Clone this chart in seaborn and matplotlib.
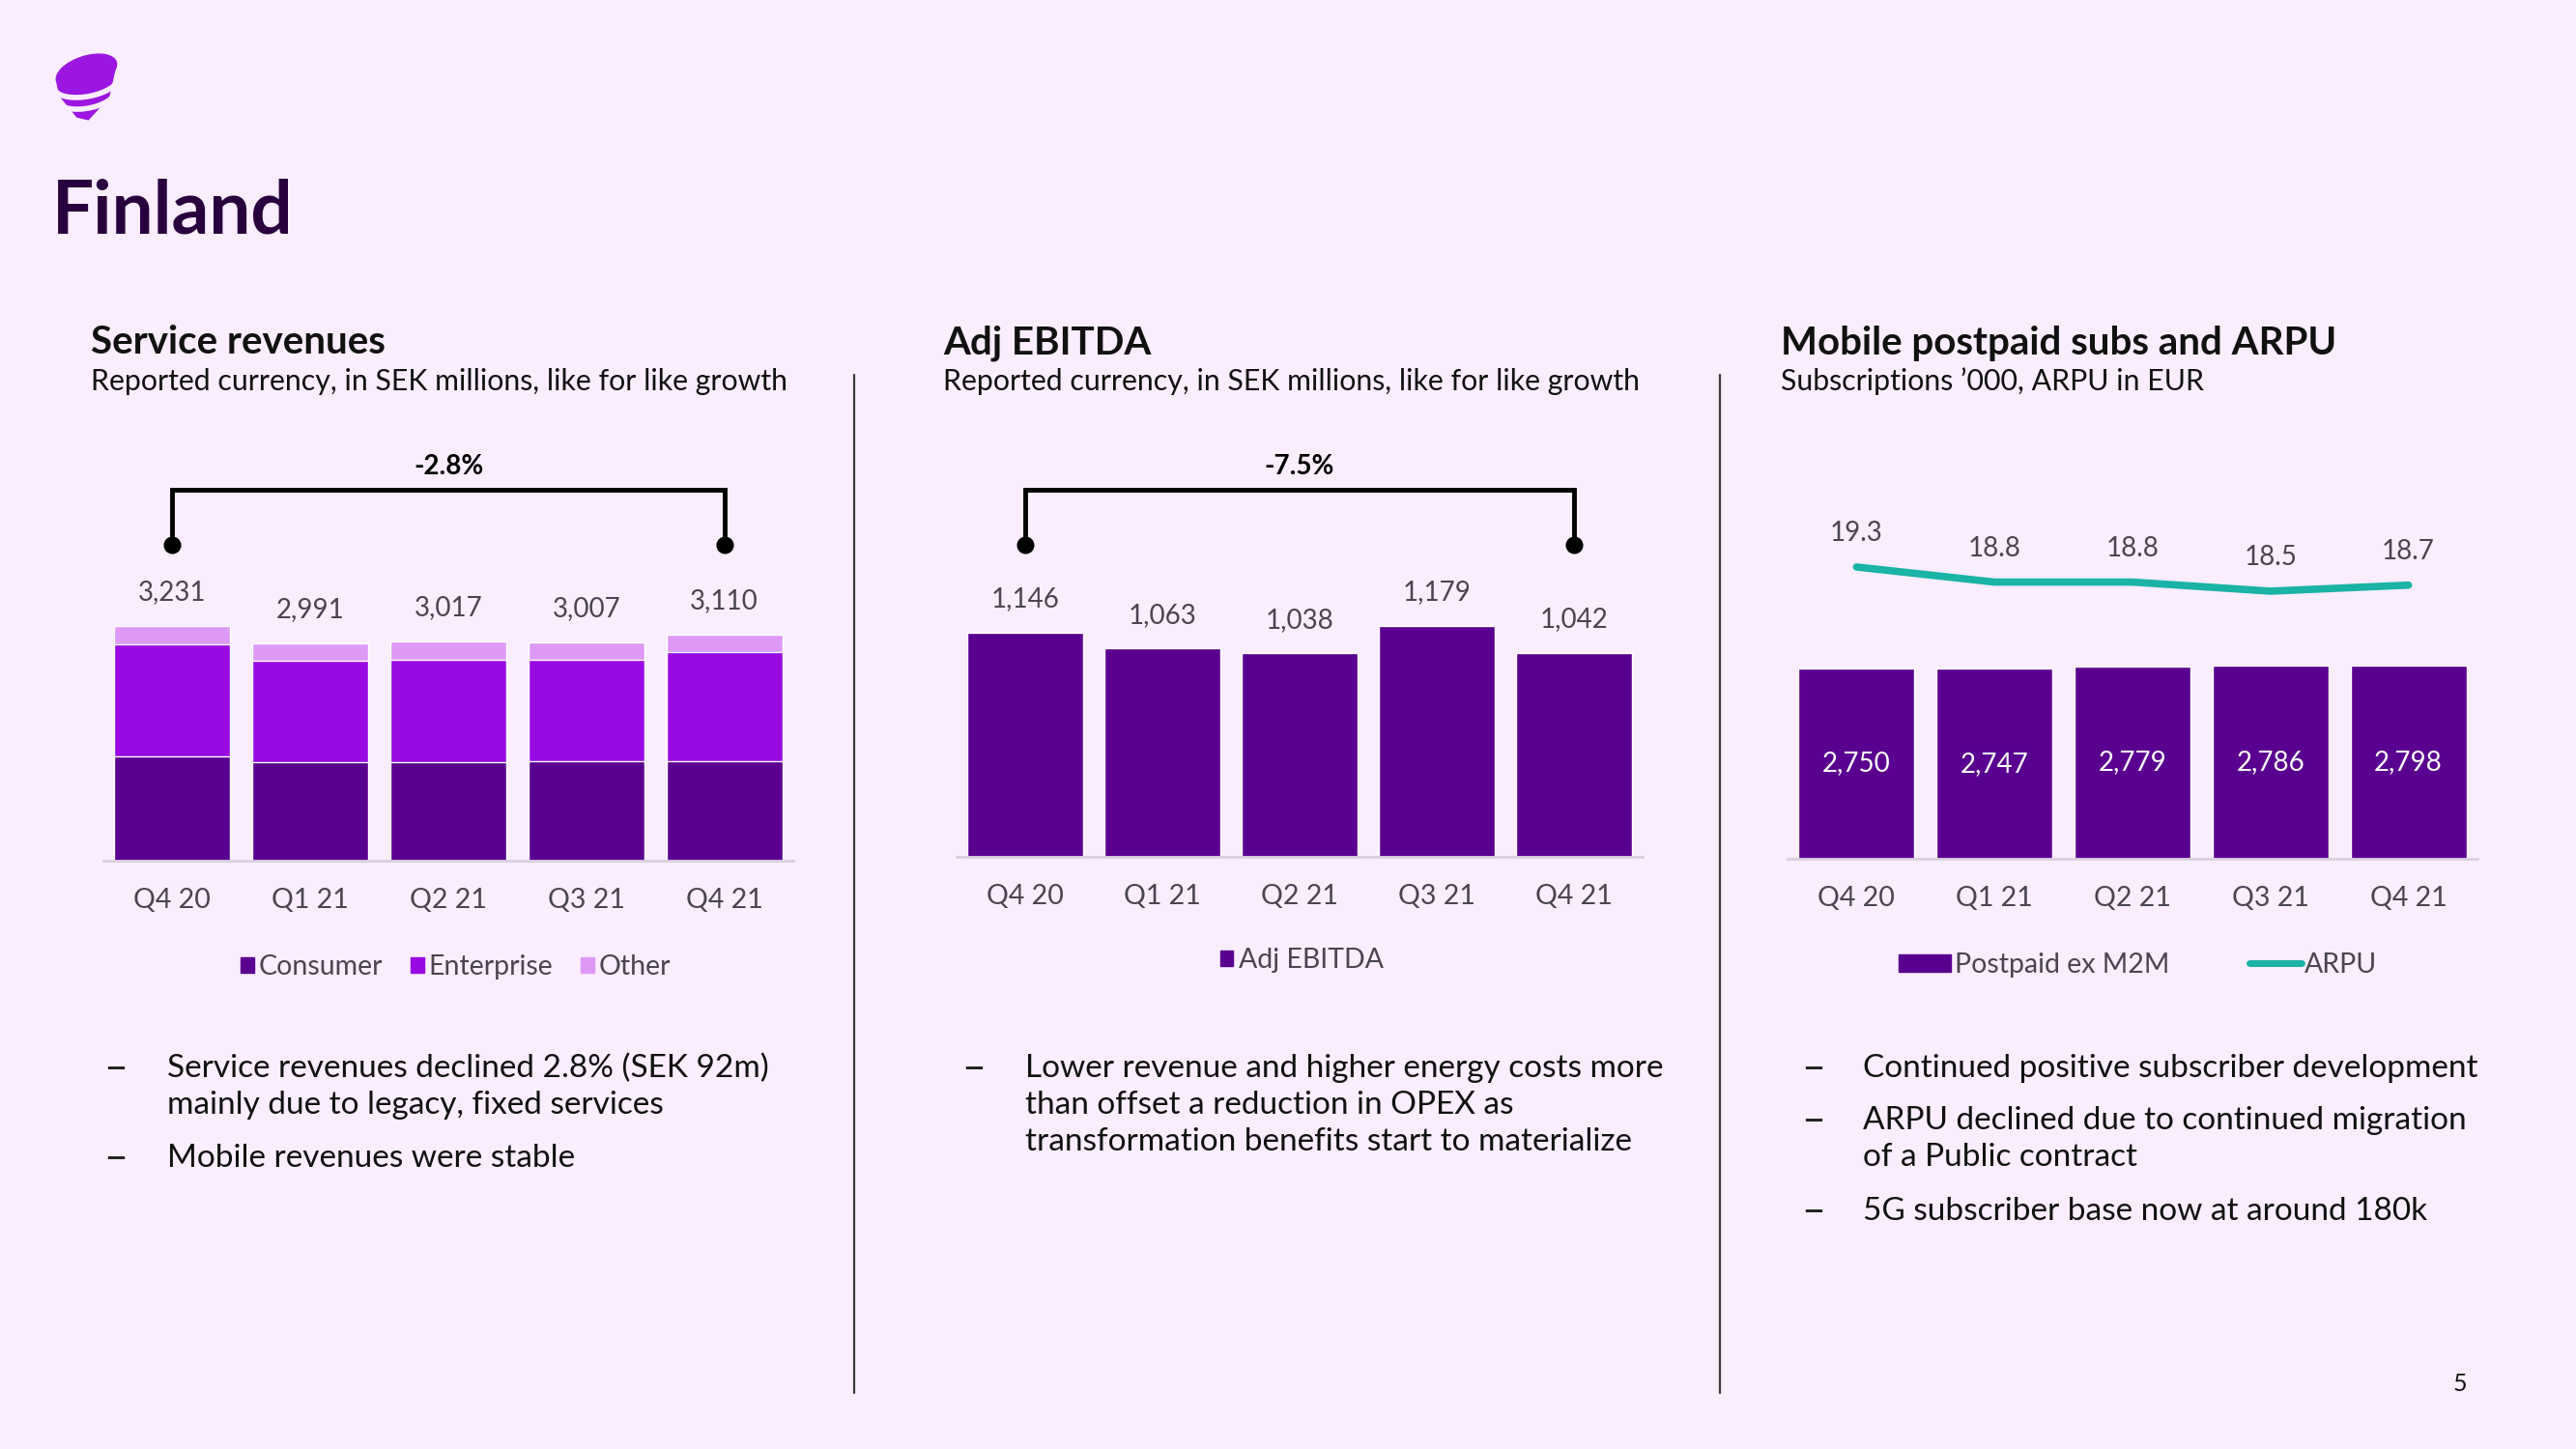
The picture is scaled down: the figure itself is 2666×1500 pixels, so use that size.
import numpy as np
import pandas as pd
import matplotlib
matplotlib.use("Agg")
import matplotlib.pyplot as plt
import matplotlib.transforms as mtransforms
from matplotlib.patches import Patch, Ellipse, Polygon
from matplotlib.lines import Line2D
import seaborn as sns

# ---------------- data ----------------
quarters = ["Q4 20", "Q1 21", "Q2 21", "Q3 21", "Q4 21"]
consumer = [1431, 1355, 1362, 1370, 1370]
enterprise = [1550, 1398, 1405, 1397, 1502]
other = [250, 238, 250, 240, 238]
service_total = [3231, 2991, 3017, 3007, 3110]
ebitda = [1146, 1063, 1038, 1179, 1042]
postpaid = [2750, 2747, 2779, 2786, 2798]
arpu = [19.3, 18.8, 18.8, 18.5, 18.7]
service_growth = "-2.8%"
ebitda_growth = "-7.5%"

# ---------------- style ----------------
BG = "#F9EDFE"
C_CONS = "#5A0090"
C_ENT = "#990AE3"
C_OTH = "#DE99F6"
C_TEAL = "#1AB3A5"
C_TXT = "#4A4550"
C_DARK = "#29003E"

sns.set_theme(style="white")
plt.rcParams["font.family"] = ["Lato", "DejaVu Sans"]

W, H = 2666, 1500
fig = plt.figure(figsize=(W / 100, H / 100), dpi=100, facecolor=BG)


def fx(x):
    return x / W


def fy(y):
    return 1 - y / H


def add_ax(x0, x1, ytop, ybot):
    ax = fig.add_axes([fx(x0), fy(ybot), (x1 - x0) / W, (ybot - ytop) / H])
    ax.set_facecolor("none")
    return ax


def style_ax(ax, pad=19):
    for s in ["top", "right", "left"]:
        ax.spines[s].set_visible(False)
    ax.spines["bottom"].set_color("#D9CFE0")
    ax.spines["bottom"].set_linewidth(2)
    ax.set_yticks([])
    ax.set_xlabel("")
    ax.set_ylabel("")
    ax.tick_params(axis="x", length=0, pad=pad, labelsize=20.5, labelcolor=C_TXT)
    ax.set_xlim(-0.5, 4.5)


def bracket(ax, label, ydot, ytop, ylab):
    tr = mtransforms.blended_transform_factory(ax.transData, ax.transAxes)
    ax.plot([0, 0, 4, 4], [ydot, ytop, ytop, ydot], color="black", lw=3.5,
            transform=tr, clip_on=False, solid_joinstyle="miter")
    ax.plot([0, 4], [ydot, ydot], "o", color="black", ms=12, transform=tr, clip_on=False)
    ax.text(2, ylab, label, transform=tr, ha="center", va="center",
            fontsize=20, fontweight="bold", color="black")


# ---------------- chart 1: service revenues (stacked) ----------------
ax1 = add_ax(107, 821, 470, 891)
df1 = pd.DataFrame({"q": quarters, "cons": consumer, "ent": enterprise, "oth": other})
df1["cons_ent"] = df1["cons"] + df1["ent"]
df1["total"] = df1["cons_ent"] + df1["oth"]
sns.barplot(data=df1, x="q", y="total", color=C_OTH, saturation=1, width=0.84, ax=ax1)
sns.barplot(data=df1, x="q", y="cons_ent", color=C_ENT, saturation=1, width=0.84, ax=ax1)
sns.barplot(data=df1, x="q", y="cons", color=C_CONS, saturation=1, width=0.84, ax=ax1)
ax1.set_ylim(0, 5600)
style_ax(ax1, pad=20)
for i, v in enumerate(service_total):
    ax1.annotate(f"{v:,}", (i, v), xytext=(0, 25), textcoords="offset points",
                 ha="center", va="center", fontsize=20, color=C_TXT)
bracket(ax1, service_growth, 0.777, 0.912, 0.968)
ax1.legend(handles=[Patch(color=C_CONS), Patch(color=C_ENT), Patch(color=C_OTH)],
           labels=["Consumer", "Enterprise", "Other"], loc="center",
           bbox_to_anchor=(0.511, -0.262), ncol=3, frameon=False, fontsize=20.5,
           handlelength=0.48, handleheight=0.48, handletextpad=0.18,
           columnspacing=1.0, labelcolor=C_TXT)

# ---------------- chart 2: adj EBITDA ----------------
ax2 = add_ax(990, 1700, 470, 887)
df2 = pd.DataFrame({"q": quarters, "v": ebitda})
sns.barplot(data=df2, x="q", y="v", color=C_CONS, saturation=1, width=0.84, ax=ax2)
ax2.set_ylim(0, 2056)
style_ax(ax2, pad=20)
for i, v in enumerate(ebitda):
    ax2.annotate(f"{v:,}", (i, v), xytext=(0, 25), textcoords="offset points",
                 ha="center", va="center", fontsize=20, color=C_TXT)
bracket(ax2, ebitda_growth, 0.774, 0.911, 0.968)
ax2.legend(handles=[Patch(color=C_CONS)], labels=["Adj EBITDA"], loc="center",
           bbox_to_anchor=(0.503, -0.257), frameon=False, fontsize=20.5,
           handlelength=0.48, handleheight=0.48, handletextpad=0.18, labelcolor=C_TXT)

# ---------------- chart 3: postpaid subs and ARPU ----------------
ax3 = add_ax(1850, 2564, 470, 889)
df3 = pd.DataFrame({"q": quarters, "v": postpaid})
sns.barplot(data=df3, x="q", y="v", color=C_CONS, saturation=1, width=0.84, ax=ax3)
ax3.set_ylim(0, 5849)
style_ax(ax3, pad=20)
for i, v in enumerate(postpaid):
    ax3.text(i, v / 2, f"{v:,}", ha="center", va="center", fontsize=20, color="white")
ax3b = ax3.twinx()
ax3b.set_facecolor("none")
sns.lineplot(x=np.arange(len(arpu)), y=arpu, color=C_TEAL, lw=5.5, sort=False, ax=ax3b,
             solid_capstyle="round")
ax3b.set_ylim(9.64, 23.04)
ax3b.set_xlim(-0.5, 4.5)
ax3b.axis("off")
for i, v in enumerate(arpu):
    ax3b.annotate(f"{v:.1f}", (i, v), xytext=(0, 25), textcoords="offset points",
                  ha="center", va="center", fontsize=20, color=C_TXT)
ax3.legend(handles=[Patch(color=C_CONS), Line2D([], [], color=C_TEAL, lw=5, solid_capstyle="round")],
           labels=["Postpaid ex M2M", "ARPU"], loc="center",
           bbox_to_anchor=(0.508, -0.262), ncol=2, frameon=False, fontsize=20.5,
           handlelength=1.9, handleheight=0.6, handletextpad=0.12, columnspacing=2.9,
           labelcolor=C_TXT)

# ---------------- page texts ----------------
# logo
lax = fig.add_axes([fx(52), fy(126), 72 / W, 72 / H])
lax.set_xlim(0, 1)
lax.set_ylim(0, 1)
lax.axis("off")
LOGO = "#9B16E0"
lax.add_patch(Polygon([[0.08, 0.62], [0.95, 0.80], [0.85, 0.35], [0.55, 0.02], [0.38, 0.06], [0.12, 0.38]],
                      closed=True, color=LOGO, lw=0))
lax.add_patch(Ellipse((0.52, 0.72), 0.92, 0.46, angle=18, color=LOGO, lw=0))
t = np.linspace(np.pi * 1.02, np.pi * 1.98, 50)
for cy, a, b in [(0.56, 0.46, 0.20), (0.36, 0.40, 0.17)]:
    xs = 0.52 + a * np.cos(t)
    ys = cy + b * np.sin(t) + 0.15 * (xs - 0.52)
    lax.plot(xs, ys, color=BG, lw=4)

fig.text(fx(54), fy(220), "Finland", fontsize=55, fontweight="bold", color=C_DARK, va="center")

titles = [(94, "Service revenues", "Reported currency, in SEK millions, like for like growth"),
          (976, "Adj EBITDA", "Reported currency, in SEK millions, like for like growth"),
          (1843, "Mobile postpaid subs and ARPU", "Subscriptions \u2019000, ARPU in EUR")]
for x, t1, t2 in titles:
    fig.text(fx(x), fy(355), t1, fontsize=29, fontweight="bold", color="#111111", va="center")
    fig.text(fx(x), fy(395), t2, fontsize=21.8, color="#111111", va="center")

for x in (884, 1780):
    fig.add_artist(Line2D([fx(x), fx(x)], [fy(388), fy(1442)], color="#3A3A3A", lw=1.6))

bullets = [
    (107, 173, [(1106, "Service revenues declined 2.8% (SEK 92m)", True),
                (1144, "mainly due to legacy, fixed services", False),
                (1199, "Mobile revenues were stable", True)]),
    (995, 1061, [(1106, "Lower revenue and higher energy costs more", True),
                 (1144, "than offset a reduction in OPEX as", False),
                 (1182, "transformation benefits start to materialize", False)]),
    (1864, 1928, [(1106, "Continued positive subscriber development", True),
                  (1160, "ARPU declined due to continued migration", True),
                  (1198, "of a Public contract", False),
                  (1254, "5G subscriber base now at around 180k", True)]),
]
for xd, xt, lines in bullets:
    for y, s, dash in lines:
        if dash:
            fig.text(fx(xd), fy(y), "\u2013", fontsize=31, color="#222222", va="center")
        fig.text(fx(xt), fy(y), s, fontsize=24, color="#111111", va="center")

fig.text(fx(2546), fy(1432), "5", fontsize=18, color="#111111", va="center", ha="center")

fig.savefig("out.png", dpi=100, facecolor=BG)
